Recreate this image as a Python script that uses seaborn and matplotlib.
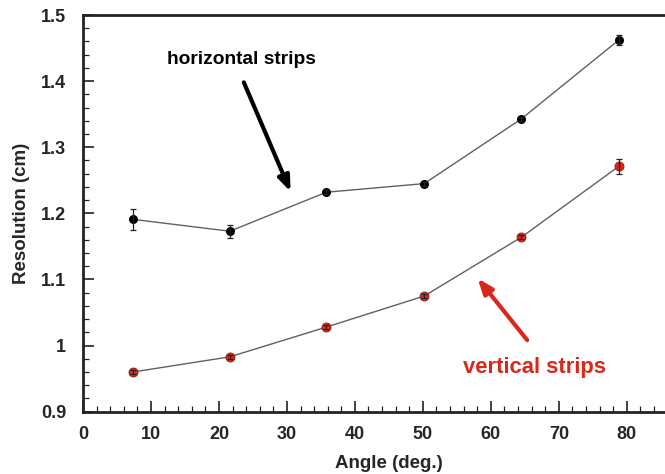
import matplotlib
matplotlib.use("Agg")
import matplotlib.pyplot as plt
import seaborn as sns
import pandas as pd
from matplotlib.ticker import MultipleLocator, FuncFormatter

sns.set_style("white")
plt.rcParams['font.family'] = ['Liberation Sans', 'DejaVu Sans']
plt.rcParams['font.weight'] = 'bold'

# data
angle = [7.3, 21.6, 35.8, 50.2, 64.5, 78.8]
res_horizontal = [1.191, 1.173, 1.232, 1.245, 1.343, 1.462]
err_horizontal = [0.016, 0.010, 0.003, 0.003, 0.003, 0.008]
res_vertical = [0.960, 0.983, 1.028, 1.075, 1.164, 1.271]
err_vertical = [0.003, 0.003, 0.003, 0.003, 0.003, 0.011]
y_ticks = [0.9, 1.0, 1.1, 1.2, 1.3, 1.4, 1.5]
y_labels = ['0.9', '1', '1.1', '1.2', '1.3', '1.4', '1.5']

df = pd.DataFrame({'angle': angle * 2,
                   'res': res_horizontal + res_vertical,
                   'strip': ['horizontal'] * 6 + ['vertical'] * 6})

fig = plt.figure(figsize=(6.65, 4.74), dpi=100)
ax = fig.add_axes([0.1248, 0.1314, 0.920, 0.8369])

red = '#d8281c'
sns.lineplot(data=df, x='angle', y='res', hue='strip', palette=['black', red],
             marker='o', markersize=6.5, markeredgecolor='none', ax=ax, legend=False,
             zorder=3)
for ln in ax.get_lines():
    ln.set_color('#606060')
    ln.set_linewidth(1.0)
ax.get_lines()[0].set_markerfacecolor('black')
ax.get_lines()[1].set_markerfacecolor(red)
ax.get_lines()[1].set_markeredgecolor('#8a1a12')
ax.get_lines()[1].set_markeredgewidth(0.6)

ax.errorbar(angle, res_horizontal, yerr=err_horizontal, fmt='none', ecolor='#222222',
            elinewidth=0.9, capsize=2.2, capthick=0.9, zorder=4)
ax.errorbar(angle, res_vertical, yerr=err_vertical, fmt='none', ecolor='#222222',
            elinewidth=0.9, capsize=2.2, capthick=0.9, zorder=4)

ax.set_xlim(0, 90)
ax.set_ylim(0.9, 1.5)
ax.xaxis.set_major_locator(MultipleLocator(10))
ax.xaxis.set_minor_locator(MultipleLocator(2))
# the 90 label lies past the right edge of the picture
ax.xaxis.set_major_formatter(FuncFormatter(lambda v, p: '' if v > 85 else f'{v:.0f}'))
ax.yaxis.set_minor_locator(MultipleLocator(0.02))
ax.set_yticks(y_ticks)
ax.set_yticklabels(y_labels)
ax.tick_params(which='both', direction='in', left=True, bottom=True, top=False, right=False,
               color='#222222', labelsize=13)
ax.tick_params(which='major', length=8, width=1.2)
ax.tick_params(axis='y', which='major', pad=12)
ax.tick_params(axis='x', which='major', pad=10)
ax.tick_params(which='minor', length=4, width=0.9)
for s in ax.spines.values():
    s.set_linewidth(2)
    s.set_color('#222222')

ax.set_xlabel('Angle (deg.)', fontsize=13.5, fontweight='bold', labelpad=9)
ax.set_ylabel('Resolution (cm)', fontsize=13.5, fontweight='bold', labelpad=8)

ax.text(12.4, 1.432, 'horizontal strips', fontsize=13.8, fontweight='bold',
        color='black', va='center', ha='left')
ax.annotate('', xy=(30.7, 1.229), xytext=(23.5, 1.402),
            arrowprops=dict(arrowstyle='-|>,head_length=0.9,head_width=0.35',
                            color='black', lw=3))
ax.text(55.9, 0.9675, 'vertical strips', fontsize=15.8, fontweight='bold',
        color=red, va='center', ha='left')
ax.annotate('', xy=(57.8, 1.105), xytext=(65.6, 1.005),
            arrowprops=dict(arrowstyle='-|>,head_length=0.9,head_width=0.35',
                            color=red, lw=3))

fig.savefig('out.png', dpi=100)
